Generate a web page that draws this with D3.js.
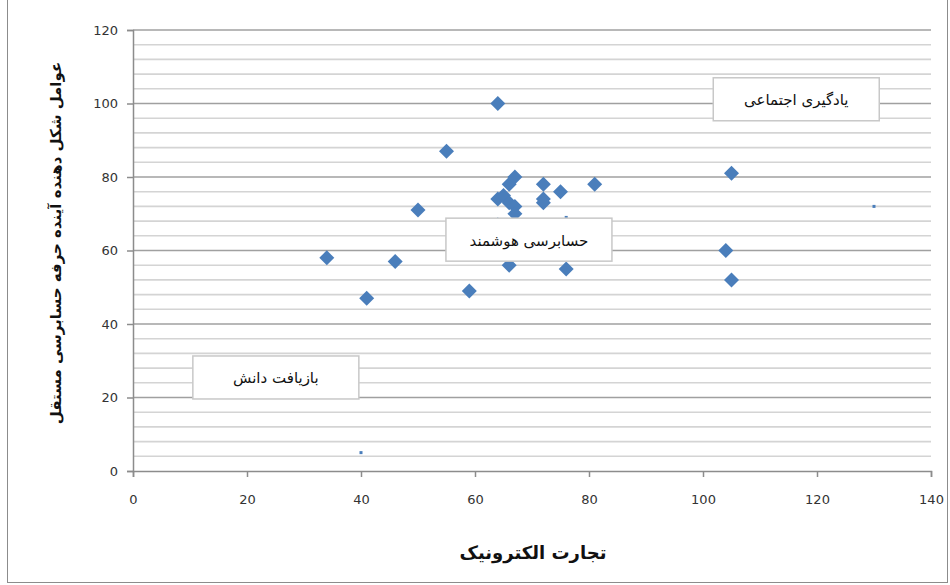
<!DOCTYPE html>
<html><head><meta charset="utf-8">
<script src="https://cdn.jsdelivr.net/npm/d3@7"></script>
<style>body{margin:0;background:#fff;} svg{display:block;}</style>
</head><body>
<script>
// Data
const xValues = [34,41,46,50,55,59,64,64,65,66,67,66,67,67,72,72,72,75,81,66,76,104,105,105,64,76];
const yValues = [58,47,57,71,87,49,100,74,75,73,72,78,80,70,78,74,73,76,78,56,55,60,81,52,67,67];
const labelNames = ["یادگیری اجتماعی","حسابرسی هوشمند","بازیافت دانش"];
const labelX = [130,76,40];
const labelY = [72,69,5];
const labelBoxX = [101.8,54.9,10.5];
const labelBoxY = [107,68.8,31.3];
const xTicks = [0,20,40,60,80,100,120,140];
const yTicks = [0,20,40,60,80,100,120];
const xTitle = "تجارت الکترونیک";
const yTitle = "عوامل شکل دهنده آینده حرفه حسابرسی مستقل";

const W=950,H=585;
const svg=d3.select("body").append("svg").attr("width",W).attr("height",H);
const m={l:133,r:931,t:30,b:471};
const x=d3.scaleLinear().domain([0,140]).range([m.l,m.r]);
const y=d3.scaleLinear().domain([0,120]).range([m.b,m.t]);

// outer frame
svg.append("rect").attr("x",7.5).attr("y",-2).attr("width",940).attr("height",584.5)
  .attr("fill","none").attr("stroke","#8c8c8c").attr("stroke-width",1);

// gridlines
const minor=d3.range(4,121,4).filter(v=>v%20!==0);
svg.append("g").selectAll("line").data(minor).join("line")
  .attr("x1",m.l).attr("x2",m.r).attr("y1",d=>y(d)).attr("y2",d=>y(d))
  .attr("stroke","#d4d4d4").attr("stroke-width",1.6);
svg.append("g").selectAll("line").data(yTicks.filter(v=>v>0)).join("line")
  .attr("x1",m.l).attr("x2",m.r).attr("y1",d=>y(d)).attr("y2",d=>y(d))
  .attr("stroke","#a0a0a0").attr("stroke-width",1.6);

// axes
const ya=svg.append("g").attr("transform",`translate(${m.l},0)`)
  .call(d3.axisLeft(y).tickValues(yTicks).tickSize(6).tickPadding(9));
const xa=svg.append("g").attr("transform",`translate(0,${m.b})`)
  .call(d3.axisBottom(x).tickValues(xTicks).tickSize(6).tickPadding(18));
[ya,xa].forEach(a=>{
  a.select(".domain").attr("stroke","#8c8c8c").attr("stroke-width",1.5);
  a.selectAll(".tick line").attr("stroke","#8c8c8c").attr("stroke-width",1.5);
  a.selectAll("text").attr("font-family","'DejaVu Sans', sans-serif").attr("font-size",13).attr("fill","#333");
});

// points
const s=7.5;
const diamond=`M0,${-s}L${s},0L0,${s}L${-s},0Z`;
svg.append("g").selectAll("path").data(xValues.map((v,i)=>[v,yValues[i]])).join("path")
  .attr("d",diamond).attr("transform",d=>`translate(${x(d[0])},${y(d[1])})`)
  .attr("fill","#4a7ebb");

// tiny label points
svg.append("g").selectAll("rect").data(labelX.map((v,i)=>[v,labelY[i]])).join("rect")
  .attr("x",d=>x(d[0])-1.5).attr("y",d=>y(d[1])-1.5).attr("width",3).attr("height",3)
  .attr("fill","#4a7ebb");

// label boxes
const bw=166,bh=43;
const lg=svg.append("g").selectAll("g").data(labelNames.map((n,i)=>({n,x:labelBoxX[i],y:labelBoxY[i]}))).join("g")
  .attr("transform",d=>`translate(${x(d.x)},${y(d.y)})`);
lg.append("rect").attr("x",0).attr("y",0).attr("width",bw).attr("height",bh)
  .attr("fill","#fff").attr("stroke","#c8c8c8").attr("stroke-width",1.5);
lg.append("text").attr("x",bw/2).attr("y",bh/2+6).attr("text-anchor","middle").attr("direction","rtl")
  .attr("font-family","'DejaVu Sans', sans-serif").attr("font-size",15).attr("fill","#111")
  .text(d=>d.n);

// titles
svg.append("text").attr("x",533).attr("y",559).attr("text-anchor","middle").attr("direction","rtl")
  .attr("font-family","'DejaVu Sans', sans-serif").attr("font-size",18).attr("font-weight","bold").attr("fill","#111")
  .text(xTitle);
svg.append("text").attr("transform","translate(61,243) rotate(-90)").attr("text-anchor","middle").attr("direction","rtl")
  .attr("font-family","'DejaVu Sans', sans-serif").attr("font-size",15).attr("font-weight","bold").attr("fill","#111")
  .text(yTitle);
</script>
</body></html>
